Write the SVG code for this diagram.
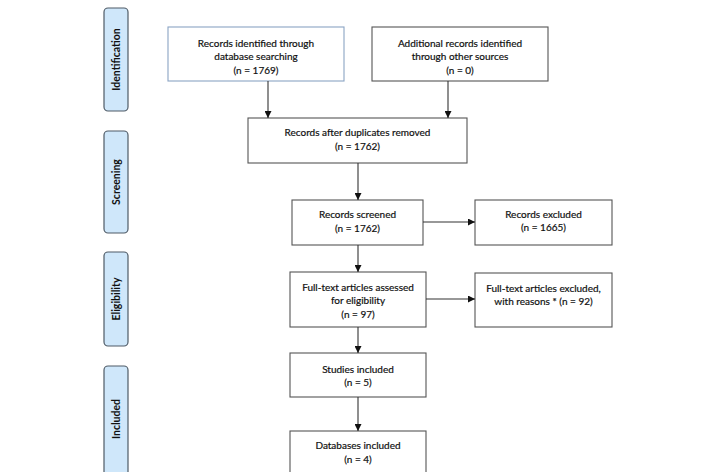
<svg xmlns="http://www.w3.org/2000/svg" width="717" height="472" viewBox="0 0 717 472">
<defs>
<style>
.side rect{fill:#cfe7fa;stroke:#4f5b66;stroke-width:1.2}
.side text{font-family:Lato,"Liberation Sans",sans-serif;font-weight:bold;font-size:10.5px;fill:#111;text-anchor:middle}
.node rect{fill:#fff;stroke:#555;stroke-width:1.1}
.node text{font-family:Lato,"Liberation Sans",sans-serif;font-size:10px;fill:#111;stroke:#111;stroke-width:0.2;text-anchor:middle}
.conn line{stroke:#333;stroke-width:1.1}
</style>
<marker id="ah" viewBox="0 0 10 10" refX="10" refY="5" markerWidth="7" markerHeight="7" markerUnits="userSpaceOnUse" orient="auto">
<path d="M0,0 L10,5 L0,10 Z" fill="#111"/>
</marker>
</defs>
<rect width="717" height="472" fill="#fff"/>
<g id="side-identification" class="side"><rect x="104" y="8" width="24" height="103" rx="4"/><text transform="translate(119.5,59.5) rotate(-90)">Identification</text></g>
<g id="side-screening" class="side"><rect x="104" y="131" width="24" height="102" rx="4"/><text transform="translate(119.5,182) rotate(-90)">Screening</text></g>
<g id="side-eligibility" class="side"><rect x="104" y="252" width="24" height="94" rx="4"/><text transform="translate(119.5,299) rotate(-90)">Eligibility</text></g>
<g id="side-included" class="side"><rect x="104" y="366" width="24" height="120" rx="4"/><text transform="translate(119.5,419) rotate(-90)">Included</text></g>

<g id="n-database" class="node"><rect x="168" y="27" width="176" height="54" style="stroke:#8aa4c4"/><text x="256" y="46.5">Records identified through</text><text x="256" y="60">database searching</text><text x="256" y="73.5">(n = 1769)</text></g>
<g id="n-other" class="node"><rect x="372" y="27" width="176" height="54"/><text x="460" y="46.5">Additional records identified</text><text x="460" y="60">through other sources</text><text x="460" y="73.5">(n = 0)</text></g>
<g id="n-dup" class="node"><rect x="248" y="118" width="219" height="45"/><text x="357.5" y="135.5">Records after duplicates removed</text><text x="357.5" y="149.5">(n = 1762)</text></g>
<g id="n-screened" class="node"><rect x="292" y="200" width="131" height="45"/><text x="357.5" y="217.5">Records screened</text><text x="357.5" y="231.5">(n = 1762)</text></g>
<g id="n-excluded" class="node"><rect x="475" y="200" width="137" height="45"/><text x="543.5" y="217.5">Records excluded</text><text x="543.5" y="231">(n = 1665)</text></g>
<g id="n-fulltext" class="node"><rect x="290" y="272" width="136" height="55"/><text x="358" y="290.5">Full-text articles assessed</text><text x="358" y="304">for eligibility</text><text x="358" y="317.5">(n = 97)</text></g>
<g id="n-ftexcluded" class="node"><rect x="475" y="273" width="137" height="54"/><text x="543.5" y="291.5">Full-text articles excluded,</text><text x="543.5" y="304.5">with reasons * (n = 92)</text></g>
<g id="n-studies" class="node"><rect x="290" y="353" width="136" height="44"/><text x="358" y="372.5">Studies included</text><text x="358" y="385.5">(n = 5)</text></g>
<g id="n-databases" class="node"><rect x="290" y="431" width="136" height="55"/><text x="358" y="449">Databases included</text><text x="358" y="462.5">(n = 4)</text></g>

<g id="connectors" class="conn">
<line x1="268" y1="81" x2="268" y2="118" marker-end="url(#ah)"/>
<line x1="448" y1="81" x2="448" y2="118" marker-end="url(#ah)"/>
<line x1="358" y1="163" x2="358" y2="200" marker-end="url(#ah)"/>
<line x1="423" y1="222" x2="475" y2="222" marker-end="url(#ah)"/>
<line x1="358" y1="245" x2="358" y2="272" marker-end="url(#ah)"/>
<line x1="426" y1="299" x2="475" y2="299" marker-end="url(#ah)"/>
<line x1="358" y1="327" x2="358" y2="353" marker-end="url(#ah)"/>
<line x1="358" y1="397" x2="358" y2="431" marker-end="url(#ah)"/>
</g>
</svg>
